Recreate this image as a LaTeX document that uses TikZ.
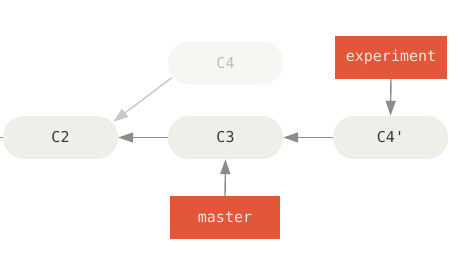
\documentclass[tikz,border=0pt]{standalone}
\usepackage{fontspec}
\setmonofont{DejaVu Sans Mono}
\usetikzlibrary{arrows.meta,calc}
\definecolor{commitfill}{HTML}{EFEEE8}
\definecolor{ghostfill}{HTML}{F6F6F2}
\definecolor{ghosttext}{HTML}{BDBDBA}
\definecolor{ghostline}{HTML}{C8C8C5}
\definecolor{branchfill}{HTML}{E2573A}
\definecolor{branchtext}{HTML}{F6E8E2}
\definecolor{linegray}{HTML}{8C8C88}
\definecolor{textgray}{HTML}{3A3A3A}
\tikzset{
  commit/.style={fill=commitfill, draw=none, rounded corners=21pt, minimum width=115pt, minimum height=43pt, inner sep=0pt, text=textgray, font=\ttfamily\fontsize{15}{15}\selectfont},
  ghost/.style={commit, fill=ghostfill, text=ghosttext},
  branch/.style={fill=branchfill, draw=none, minimum height=43pt, inner sep=0pt, text=branchtext, font=\ttfamily\fontsize{15}{15}\selectfont},
  link/.style={draw=linegray, line width=1.4pt, -{Triangle[length=15pt,width=10pt]}},
  ghostlink/.style={link, draw=ghostline, -{Triangle[length=15pt,width=10pt,fill=ghostline]}}
}
\begin{document}
\begin{tikzpicture}[x=1pt,y=-1pt]
\useasboundingbox (0,0) rectangle (470,273);
\node[commit] (C2) at (60.5,137.5) {C2};
\node[commit] (C3) at (225.5,137.5) {C3};
\node[ghost] (C4) at (225.5,63) {C4};
\node[commit] (C4p) at (390.5,137.5) {C4'};
\node[branch, minimum width=112pt] (exp) at (391,57.5) {experiment};
\node[branch, minimum width=110pt] (master) at (225,217.5) {master};
\coordinate (left) at (0,137.5);
\draw[draw=linegray, line width=1.4pt] (C2.west) -- (left);
\draw[link] (C3.west) -- (C2.east);
\draw[link] (C4p.west) -- (C3.east);
\draw[ghostlink] ($(C4.south west)+(4,-7)$) -- ($(C2.north east)+(-5,6)$);
\draw[link] (master.north) -- (C3.south);
\draw[link] (exp.south) -- (C4p.north);
\end{tikzpicture}
\end{document}
